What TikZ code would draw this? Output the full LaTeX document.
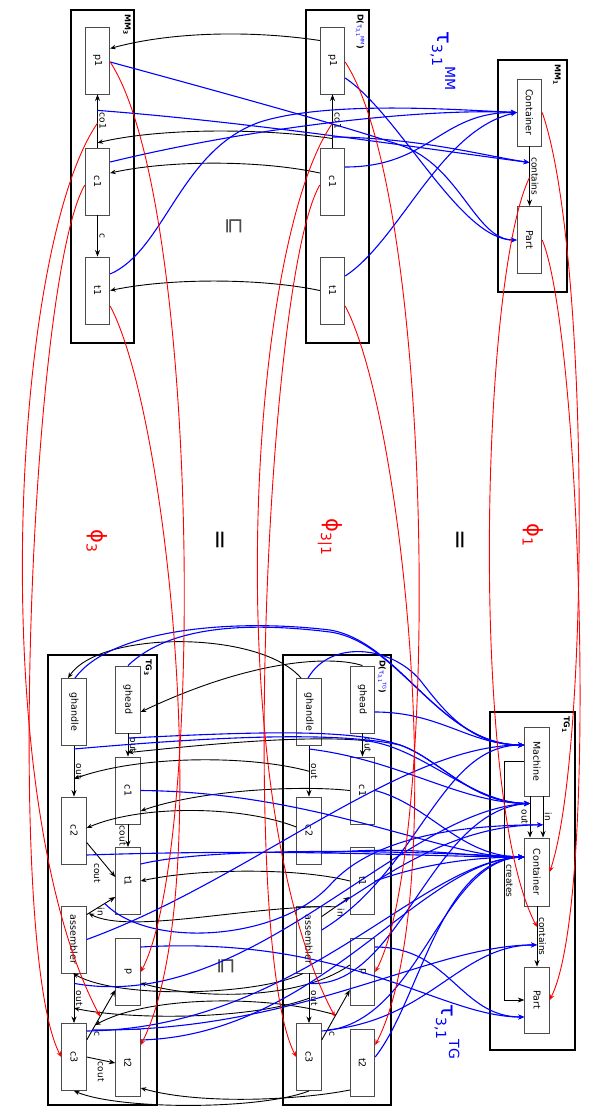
\documentclass[tikz,border=0pt]{standalone}
\usepackage{fontspec}
\setmainfont{DejaVu Sans}
\usepackage{graphicx}
\usetikzlibrary{arrows.meta}
\newcommand{\rtxt}[1]{\rotatebox{-90}{#1}}
\newcommand{\fsz}[1]{\fontsize{#1}{#1}\selectfont}
\newcommand{\bigsym}[3]{{\fsz{21}#1}\raisebox{-5pt}{\fsz{14}#2}\raisebox{8pt}{\fsz{14}#3}}
\newcommand{\dtitle}[1]{{\bfseries D(}{\color{tblue}\fsz{7}τ\raisebox{-1.5pt}{\fsz{5}3,1}\raisebox{3pt}{\fsz{5}#1}}{\bfseries )}}
\definecolor{tblue}{RGB}{0,0,255}
\begin{document}
\begin{tikzpicture}[x=1pt,y=-1pt,
  nd/.style={draw=black!70, line width=0.9pt, minimum width=24.5pt, minimum height=67pt, inner sep=0pt, font=\fsz{9.5}},
  outerbox/.style={draw=black, line width=1.7pt},
  conn/.style={-{Stealth[length=6.5pt,width=5pt]}, line width=0.9pt},
  inc/.style={-{Stealth[length=5.5pt,width=4.5pt]}, line width=0.9pt},
  tau/.style={tblue, line width=1.1pt, -{Stealth[length=6pt,width=5pt]}},
  phi/.style={red, line width=0.9pt, -{Stealth[length=5.5pt,width=4.5pt]}},
  lab/.style={font=\fsz{9}, inner sep=1.5pt},
  ttl/.style={anchor=north, inner sep=0pt, font=\fsz{8}},
  bigl/.style={inner sep=0pt, font=\fsz{21}}
]
\useasboundingbox (0,0) rectangle (593,1106);

% ---------- frames ----------
\draw[outerbox] (71,10) rectangle (134,343);
\draw[outerbox] (306,10) rectangle (369,343);
\draw[outerbox] (498,60) rectangle (567,292);
\draw[outerbox] (48,655) rectangle (157,1105);
\draw[outerbox] (283,655) rectangle (391,1105);
\draw[outerbox] (490,712) rectangle (575,1050);

% ---------- titles ----------
\node[ttl] (tMM3) at (127,14) {\rtxt{\bfseries MM\textsubscript{3}}};
\node[ttl] (tD1) at (360,14) {\rtxt{\dtitle{MM}}};
\node[ttl] (tMM1) at (557,64) {\rtxt{\bfseries MM\textsubscript{1}}};
\node[ttl] (tTG3) at (148,659) {\rtxt{\bfseries TG\textsubscript{3}}};
\node[ttl] (tD2) at (382,660) {\rtxt{\dtitle{TG}}};
\node[ttl] (tTG1) at (566,716) {\rtxt{\bfseries TG\textsubscript{1}}};

% ---------- big labels ----------
\node[bigl, text=tblue] (tauMM) at (443,61) {\rtxt{\bigsym{τ}{3,1}{MM}}};
\node[bigl, text=tblue] (tauTG) at (447,1032) {\rtxt{\bigsym{τ}{3,1}{TG}}};
\node[bigl, text=red] (phi3) at (97,541) {\rtxt{\bigsym{ϕ}{3}{}}};
\node[bigl, text=red] (phi31) at (330,537) {\rtxt{\bigsym{ϕ}{3|1}{}}};
\node[bigl, text=red] (phi1) at (533,535) {\rtxt{\bigsym{ϕ}{1}{}}};
\node[bigl, font=\fsz{25}] (eq1) at (218,540) {\rtxt{=}};
\node[bigl, font=\fsz{25}] (eq2) at (458,540) {\rtxt{=}};
\node[bigl, text=black!70] (sq1) at (234,226) {\rtxt{⊑}};
\node[bigl, text=black!70] (sq2) at (226,966) {\rtxt{⊑}};

% ---------- MM3 ----------
\node[nd] (m3p1) at (97.5,60.5) {\rtxt{p1}};
\node[nd] (m3c1) at (97.5,181.5) {\rtxt{c1}};
\node[nd] (m3t1) at (97.5,290.5) {\rtxt{t1}};
\draw[conn] (m3c1) -- coordinate[pos=0.09](m3co1a) coordinate[pos=0.46](m3co1m) coordinate[pos=0.7](m3co1b) node[midway,right,lab]{\rtxt{co1}} (m3p1);
\draw[conn] (m3c1) -- node[midway,right,lab]{\rtxt{c}} (m3t1);

% ---------- D(tau MM) ----------
\node[nd] (dp1) at (332.5,60.5) {\rtxt{p1}};
\node[nd] (dc1) at (332.5,181.5) {\rtxt{c1}};
\node[nd] (dt1) at (332.5,290.5) {\rtxt{t1}};
\draw[conn] (dc1) -- coordinate[pos=0.17](dco1a) coordinate[pos=0.46](dco1m) coordinate[pos=0.2](dco1b) node[midway,right,lab]{\rtxt{co1}} (dp1);

% ---------- MM1 ----------
\node[nd] (cont) at (529.5,112.5) {\rtxt{Container}};
\node[nd] (part) at (529.5,240) {\rtxt{Part}};
\draw[conn] (cont) -- coordinate[pos=0.27](contb) coordinate[pos=0.52](contr) node[midway,right,lab]{\rtxt{contains}} (part);

% ---------- TG3 ----------
\node[nd] (gha) at (74,712) {\rtxt{ghandle}};
\node[nd] (ghe) at (128,699.5) {\rtxt{ghead}};
\node[nd] (gc1) at (128,790.5) {\rtxt{c1}};
\node[nd] (gc2) at (74,830.5) {\rtxt{c2}};
\node[nd] (gt1) at (128,881) {\rtxt{t1}};
\node[nd] (gas) at (74,939.5) {\rtxt{assembler}};
\node[nd] (gp) at (128,972) {\rtxt{p}};
\node[nd] (gc3) at (74,1057) {\rtxt{c3}};
\node[nd] (gt2) at (128,1063) {\rtxt{t2}};
\draw[conn] (ghe) -- coordinate[pos=0.2](gout1s) coordinate[pos=0.83](gout1t) node[midway,right,lab]{\rtxt{out}} (gc1);
\draw[conn] (gha) -- coordinate[pos=0.06](gout2s) coordinate[pos=0.65](gout2t) node[midway,right,lab]{\rtxt{out}} (gc2);
\draw[conn] (gc1) -- node[midway,left,lab]{\rtxt{cout}} (gt1);
\draw[conn] ([yshift=-12pt]gc2.east) -- node[pos=0.55,anchor=north east,lab]{\rtxt{cout}} ([yshift=4pt]gt1.west);
\draw[conn] ([yshift=-9pt]gas.north east) -- coordinate[pos=0.07](gins) coordinate[pos=0.63](gint) node[pos=0.5,below,lab]{\rtxt{in}} ([yshift=18pt]gt1.south west);
\draw[conn] (gas) -- coordinate[pos=0.2](gout3s) coordinate[pos=0.7](gout3t) node[midway,right,lab]{\rtxt{out}} (gc3);
\draw[conn] ([yshift=17pt]gc3.east) -- coordinate[pos=0.2](gcs) coordinate[pos=0.3](gcb) coordinate[pos=0.47](gcr) node[pos=0.2,below right,lab]{\rtxt{c}} ([yshift=-18pt]gp.west);
\draw[conn] (gc3.east) -- node[midway,below,lab]{\rtxt{cout}} (gt2.west);

% ---------- D(tau TG) ----------
\node[nd] (hha) at (309,712) {\rtxt{ghandle}};
\node[nd] (hhe) at (362.5,699.5) {\rtxt{ghead}};
\node[nd] (hc1) at (362.5,790.5) {\rtxt{c1}};
\node[nd] (hc2) at (309,830.5) {\rtxt{c2}};
\node[nd] (ht1) at (362.5,881) {\rtxt{t1}};
\node[nd] (has) at (309,939.5) {\rtxt{assembler}};
\node[nd] (hp) at (362.5,972) {\rtxt{p}};
\node[nd] (hc3) at (309,1057) {\rtxt{c3}};
\node[nd] (ht2) at (362.5,1063) {\rtxt{t2}};
\draw[conn] (hhe) -- coordinate[pos=0.3](hout1s) node[midway,right,lab]{\rtxt{out}} (hc1);
\draw[conn] (hha) -- coordinate[pos=0.06](hout2s) coordinate[pos=0.5](hout2m) node[midway,right,lab]{\rtxt{out}} (hc2);
\draw[conn] ([yshift=-11pt]has.north east) -- coordinate[pos=0.5](hinm) node[pos=0.5,below right,lab]{\rtxt{in}} ([yshift=18pt]ht1.south west);
\draw[conn] (has) -- coordinate[pos=0.2](hout3s) coordinate[pos=0.5](hout3m) node[midway,right,lab]{\rtxt{out}} (hc3);
\draw[conn] ([yshift=17pt]hc3.east) -- coordinate[pos=0.2](hcs) coordinate[pos=0.5](hcm) coordinate[pos=0.47](hcr) node[pos=0.2,below right,lab]{\rtxt{c}} ([yshift=-18pt]hp.west);

% ---------- TG1 ----------
\node[nd, minimum height=69pt] (mach) at (537,761.5) {\rtxt{Machine}};
\node[nd, minimum height=68pt] (tcont) at (537,872) {\rtxt{Container}};
\node[nd, minimum height=66pt] (tpart) at (537,1000) {\rtxt{Part}};
\draw[conn] ([xshift=-7pt]mach.south) -- coordinate[pos=0.17](toutt) node[midway,left,lab]{\rtxt{out}} ([xshift=-7pt]tcont.north);
\draw[conn] ([xshift=6pt]mach.south) -- coordinate[pos=0.69](tint) node[midway,right,lab]{\rtxt{in}} ([xshift=6pt]tcont.north);
\draw[conn] (tcont) -- coordinate[pos=0.64](tcontt) coordinate[pos=0.34](tcontr) node[midway,right,lab]{\rtxt{contains}} (tpart);
\draw[conn, line width=0.7pt] (mach.west) -- ++(-20,0) |- node[pos=0.25,right,lab]{\rtxt{creates}} (tpart.west);

% ---------- inclusion arcs (top) ----------
\draw[inc] ([yshift=20pt]dp1.west) .. controls (250,30) and (170,32) .. ([yshift=12pt]m3p1.east);
\draw[inc] (dco1a) .. controls (260,128) and (160,128) .. (m3co1a);
\draw[inc] ([yshift=8.5pt]dc1.west) .. controls (260,160) and (170,160) .. ([yshift=8.5pt]m3c1.east);
\draw[inc] (dt1.west) .. controls (260,278) and (170,278) .. (m3t1.east);

% ---------- inclusion arcs (bottom) ----------
\draw[inc] ([xshift=-8pt]hha.north) .. controls (260,630) and (100,630) .. ([xshift=-6pt]gha.north);
\draw[inc] (hhe.north) .. controls (330,655) and (250,660) .. ([yshift=-12.5pt]ghe.east);
\draw[inc] (hout1s) .. controls (300,735) and (200,745) .. (gout1t);
\draw[inc] (hout2m) .. controls (250,755) and (140,755) .. (gout2t);
\draw[inc] (hc1.west) .. controls (300,785) and (200,790) .. ([yshift=-20.5pt]gc1.east);
\draw[inc] ([yshift=3.5pt]hc2.west) .. controls (240,805) and (140,805) .. ([yshift=2.5pt]gc2.east);
\draw[inc] (ht1.west) .. controls (300,868) and (200,868) .. (gt1.east);
\draw[inc] (hinm) .. controls (250,905) and (130,935) .. (gins);
\draw[inc] ([yshift=7pt]hp.west) .. controls (300,1000) and (200,1000) .. ([yshift=-11pt]gp.east);
\draw[inc] ([xshift=-6pt]has.south) .. controls (260,995) and (120,1000) .. ([xshift=-1pt]gas.south);
\draw[inc] (hout3m) .. controls (250,1020) and (130,1020) .. (gout3t);
\draw[inc] (hcm) .. controls (270,995) and (150,995) .. (gcb);
\draw[inc] (hc3.south) .. controls (260,1110) and (120,1110) .. (gc3.south);
\draw[inc] ([yshift=-27pt]ht2.west) .. controls (300,1100) and (200,1105) .. ([yshift=-25pt]gt2.east);

% ---------- tau (top) ----------
\draw[tau] ([yshift=-1.5pt]m3p1.east) .. controls (250,100) and (350,128) .. (400,145) .. controls (460,165) and (475,240) .. (part.west);
\draw[tau] (m3co1b) .. controls (250,122) and (420,148) .. (contb);
\draw[tau] ([yshift=19.5pt]m3c1.east) .. controls (250,128) and (420,108) .. (cont.west);
\draw[tau] ([yshift=16.5pt]m3t1.east) .. controls (165,250) and (180,150) .. (260,122) .. controls (330,100) and (460,110) .. (cont.west);
\draw[tau] ([yshift=-17.5pt]dp1.east) .. controls (400,115) and (460,240) .. (part.west);
\draw[tau] (dco1b) .. controls (420,138) and (480,155) .. (contb);
\draw[tau] ([yshift=14.5pt]dc1.east) .. controls (430,167) and (440,112) .. (cont.west);
\draw[tau] ([yshift=14.5pt]dt1.east) .. controls (400,240) and (440,130) .. (cont.west);

% ---------- tau (bottom, from TG3) ----------
\draw[tau] (ghe.north) .. controls (170,625) and (250,622) .. (330,632) .. controls (400,642) and (440,745) .. ([yshift=16.5pt]mach.west);
\draw[tau] ([xshift=1pt]gha.north) .. controls (110,630) and (230,618) .. (330,630) .. controls (400,642) and (440,745) .. ([yshift=16.5pt]mach.west);
\draw[tau] (gout1s) .. controls (250,732) and (350,728) .. (400,745) .. controls (440,759) and (470,803) .. (toutt);
\draw[tau] (gout2s) .. controls (200,738) and (330,730) .. (400,745) .. controls (440,759) and (470,803) .. (toutt);
\draw[tau] (gc1.east) .. controls (320,792) and (450,860) .. ([yshift=15pt]tcont.west);
\draw[tau] ([yshift=-24.5pt]gc2.east) .. controls (300,848) and (430,857) .. ([yshift=15pt]tcont.west);
\draw[tau] ([yshift=17pt]gt1.east) .. controls (220,845) and (430,852) .. ([yshift=15pt]tcont.west);
\draw[tau] (gas.east) .. controls (250,880) and (400,745) .. ([yshift=16.5pt]mach.west);
\draw[tau] (gint) .. controls (150,950) and (280,940) .. (330,885) .. controls (370,840) and (450,825) .. (tint);
\draw[tau] ([yshift=25pt]gp.east) .. controls (350,935) and (440,1017) .. ([yshift=-17pt]tpart.west);
\draw[tau] (gout3s) .. controls (250,1015) and (400,810) .. (toutt);
\draw[tau] ([yshift=26pt]gc3.east) .. controls (300,1028) and (420,860) .. ([yshift=15pt]tcont.west);
\draw[tau] (gcs) .. controls (300,1032) and (430,945) .. (tcontt);
\draw[tau] ([yshift=23pt]gt2.east) .. controls (320,1035) and (420,860) .. ([yshift=15pt]tcont.west);

% ---------- tau (bottom, from D) ----------
\draw[tau] ([xshift=-1pt]hha.north) .. controls (330,640) and (390,645) .. (420,680) .. controls (445,712) and (470,745) .. ([yshift=16.5pt]mach.west);
\draw[tau] ([yshift=-12.5pt]hhe.east) .. controls (440,712) and (470,745) .. ([yshift=16.5pt]mach.west);
\draw[tau] (hout1s) .. controls (420,745) and (470,803) .. (toutt);
\draw[tau] (hout2s) .. controls (400,760) and (460,803) .. (toutt);
\draw[tau] (hc1.east) .. controls (430,805) and (460,857) .. ([yshift=15pt]tcont.west);
\draw[tau] ([yshift=-22.5pt]hc2.east) .. controls (420,845) and (460,857) .. ([yshift=15pt]tcont.west);
\draw[tau] (ht1.east) .. controls (420,865) and (470,857) .. ([yshift=15pt]tcont.west);
\draw[tau] ([yshift=9.5pt]has.east) .. controls (420,870) and (440,745) .. ([yshift=16.5pt]mach.west);
\draw[tau] (hinm) .. controls (380,880) and (450,825) .. (tint);
\draw[tau] ([yshift=25pt]hp.east) .. controls (450,947) and (460,1017) .. ([yshift=-17pt]tpart.west);
\draw[tau] (hout3s) .. controls (400,990) and (430,810) .. (toutt);
\draw[tau] ([yshift=26pt]hc3.east) .. controls (420,1025) and (440,860) .. ([yshift=15pt]tcont.west);
\draw[tau] (hcs) .. controls (430,1020) and (460,945) .. (tcontt);
\draw[tau] ([yshift=6pt]ht2.east) .. controls (420,1000) and (440,860) .. ([yshift=15pt]tcont.west);

% ---------- phi (red) ----------
\draw[phi] ([yshift=-1.5pt]m3p1.east) .. controls (200,200) and (205,850) .. (gp.east);
\draw[phi] ([yshift=-15.5pt]m3t1.east) .. controls (170,420) and (215,900) .. ([yshift=18pt]gt2.east);
\draw[phi] (m3co1m) .. controls (10,250) and (-15,800) .. (gcr);
\draw[phi] ([yshift=-3.5pt]m3c1.west) .. controls (30,280) and (5,950) .. (gc3.west);
\draw[phi] ([yshift=-1.5pt]dp1.east) .. controls (435,200) and (440,850) .. (hp.east);
\draw[phi] ([yshift=-15.5pt]dt1.east) .. controls (405,420) and (450,900) .. ([yshift=18pt]ht2.east);
\draw[phi] (dco1m) .. controls (245,250) and (220,800) .. (hcr);
\draw[phi] ([yshift=-3.5pt]dc1.west) .. controls (265,280) and (240,950) .. (hc3.west);
\draw[phi] (cont.east) .. controls (590,250) and (590,750) .. (tcont.east);
\draw[phi] (part.east) .. controls (580,330) and (600,900) .. (tpart.east);
\draw[phi] (contr) .. controls (480,280) and (470,800) .. (tcontr);
\end{tikzpicture}
\end{document}
